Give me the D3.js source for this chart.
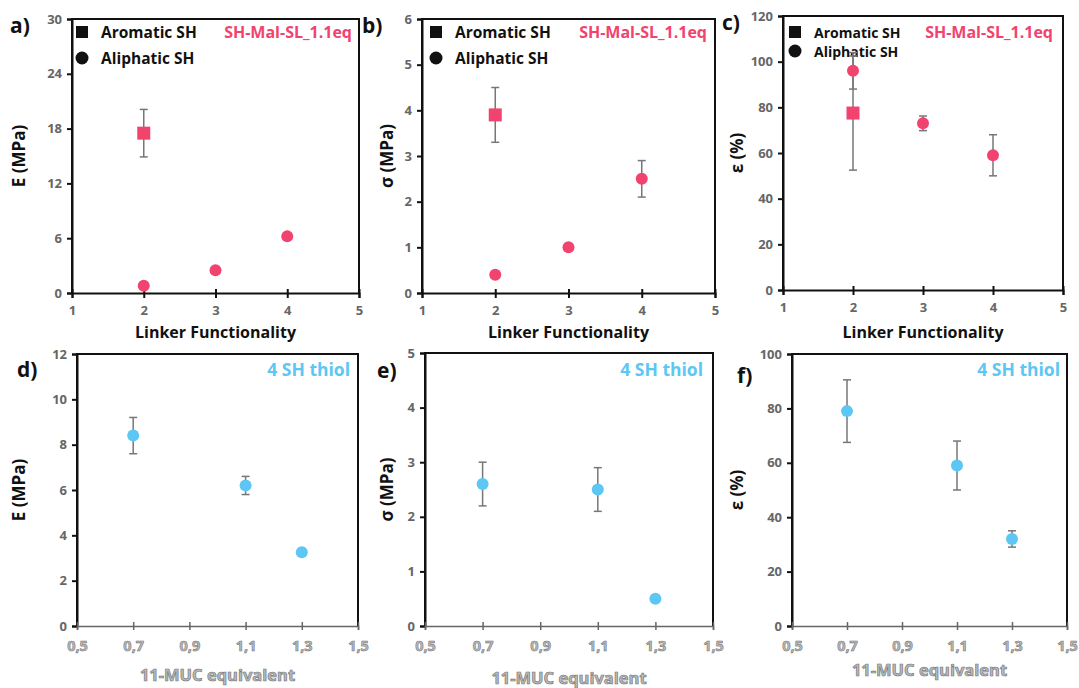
<!DOCTYPE html>
<html><head><meta charset="utf-8">
<script src="https://cdn.jsdelivr.net/npm/d3@7"></script>
<style>
html,body{margin:0;padding:0;background:#fff;}
svg{display:block;font-family:"Open Sans",sans-serif;}
</style></head>
<body><svg id="c" width="1079" height="688"></svg>
<script>
// ---------- DATA ----------
const linkerTicks = [1,2,3,4,5];
const mucTicks = [0.5,0.7,0.9,1.1,1.3,1.5];
const mucTickLabels = ["0,5","0,7","0,9","1,1","1,3","1,5"];

const aromaticX = [2];
const aliphaticX = [2,3,4];
const mucX = [0.7,1.1,1.3];

// a) Young's modulus E (MPa)
const E_aromatic = [17.5], E_aromatic_err = [2.6];
const E_aliphatic = [0.8,2.5,6.2], E_aliphatic_err = [0,0,0];
// b) stress sigma (MPa)
const S_aromatic = [3.9], S_aromatic_err = [0.6];
const S_aliphatic = [0.4,1.0,2.5], S_aliphatic_err = [0,0.05,0.4];
// c) strain epsilon (%)
const e_aromatic = [77.5], e_aromatic_err = [25];
const e_aliphatic = [96,73,59], e_aliphatic_err = [8,3.2,9];
// d-f) 4 SH thiol vs 11-MUC equivalent
const E_muc = [8.4,6.2,3.25], E_muc_err = [0.8,0.4,0.15];
const S_muc = [2.6,2.5,0.5], S_muc_err = [0.4,0.4,0];
const e_muc = [79,59,32], e_muc_err = [11.5,9,3];

const legendLabels = ["Aromatic SH","Aliphatic SH"];
const topTitle = "SH-Mal-SL_1.1eq";
const bottomTitle = "4 SH thiol";

// ---------- STYLE ----------
const PINK = "#f2436f", BLUE = "#5cc6f4", ERR = "#777";
const svg = d3.select("#c");

const panels = [
 {id:"a)", lab:[10,33], box:[72,359,19,293], xd:[1,5], xt:linkerTicks, xl:linkerTicks.map(String), yd:[0,30], yt:d3.range(0,31,6),
  ylab:"E (MPa)", ylx:20, xlab:"Linker Functionality", xly:338, leg:[[82,32],[82,58]], lfs:15.5, title:topTitle, tcol:PINK, tx:352, ty:38,
  series:[{x:aromaticX,y:E_aromatic,err:E_aromatic_err,shape:"square",col:PINK},{x:aliphaticX,y:E_aliphatic,err:E_aliphatic_err,shape:"circle",col:PINK}], top:true},
 {id:"b)", lab:[362,33], box:[422,715,19,293], xd:[1,5], xt:linkerTicks, xl:linkerTicks.map(String), yd:[0,6], yt:d3.range(0,7,1),
  ylab:"σ (MPa)", ylx:388, xlab:"Linker Functionality", xly:338, leg:[[436,32],[436,58]], lfs:15.5, title:topTitle, tcol:PINK, tx:707, ty:38,
  series:[{x:aromaticX,y:S_aromatic,err:S_aromatic_err,shape:"square",col:PINK},{x:aliphaticX,y:S_aliphatic,err:S_aliphatic_err,shape:"circle",col:PINK}], top:true},
 {id:"c)", lab:[722,30], box:[783,1063,16,290], xd:[1,5], xt:linkerTicks, xl:linkerTicks.map(String), yd:[0,120], yt:d3.range(0,121,20),
  ylab:"ε (%)", ylx:738, xlab:"Linker Functionality", xly:338, leg:[[795,32],[795,51]], lfs:14, title:topTitle, tcol:PINK, tx:1053, ty:38,
  series:[{x:aromaticX,y:e_aromatic,err:e_aromatic_err,shape:"square",col:PINK},{x:aliphaticX,y:e_aliphatic,err:e_aliphatic_err,shape:"circle",col:PINK}], top:true},
 {id:"d)", lab:[17,377], box:[77,358,354,626], xd:[0.5,1.5], xt:mucTicks, xl:mucTickLabels, yd:[0,12], yt:d3.range(0,13,2),
  ylab:"E (MPa)", ylx:20, xlab:"11-MUC equivalent", xly:681, title:bottomTitle, tcol:BLUE, tx:350, ty:376,
  series:[{x:mucX,y:E_muc,err:E_muc_err,shape:"circle",col:BLUE}], top:false},
 {id:"e)", lab:[377,378], box:[425,713,353,626], xd:[0.5,1.5], xt:mucTicks, xl:mucTickLabels, yd:[0,5], yt:d3.range(0,6,1),
  ylab:"σ (MPa)", ylx:388, xlab:"11-MUC equivalent", xly:684, title:bottomTitle, tcol:BLUE, tx:703, ty:376,
  series:[{x:mucX,y:S_muc,err:S_muc_err,shape:"circle",col:BLUE}], top:false},
 {id:"f)", lab:[737,383], box:[792,1067,354,626], xd:[0.5,1.5], xt:mucTicks, xl:mucTickLabels, yd:[0,100], yt:d3.range(0,101,20),
  ylab:"ε (%)", ylx:738, xlab:"11-MUC equivalent", xly:676, title:bottomTitle, tcol:BLUE, tx:1060, ty:376,
  series:[{x:mucX,y:e_muc,err:e_muc_err,shape:"circle",col:BLUE}], top:false}
];

panels.forEach(p => {
  const [x0,x1,yT,yB] = p.box;
  const x = d3.scaleLinear().domain(p.xd).range([x0,x1]);
  const y = d3.scaleLinear().domain(p.yd).range([yB,yT]);
  const g = svg.append("g");

  // frame
  g.append("path").attr("d",`M${x0},${yB}V${yT}H${x1}V${yB}`).attr("fill","none").attr("stroke","#111").attr("stroke-width",2);

  // y axis
  const ya = g.append("g").attr("transform",`translate(${x0},0)`)
    .call(d3.axisLeft(y).tickValues(p.yt).tickSize(5).tickPadding(5).tickFormat(d3.format("d")));
  ya.select(".domain").attr("stroke","#111").attr("stroke-width",2);
  ya.selectAll(".tick line").attr("stroke","#111").attr("stroke-width",2);
  ya.selectAll(".tick text").attr("font-size",13).attr("font-weight",700).attr("fill","#666")
    .attr("font-family","'Open Sans',sans-serif");

  // x axis
  const xa = g.append("g").attr("transform",`translate(0,${yB})`)
    .call(d3.axisBottom(x).tickValues(p.xt).tickSize(p.top?5:4).tickPadding(p.top?8:11).tickFormat((d,i)=>p.xl[i]));
  xa.select(".domain").attr("stroke",p.top?"#111":"#666").attr("stroke-width",p.top?2:1.5);
  xa.selectAll(".tick line").attr("stroke",p.top?"#111":"#666").attr("stroke-width",p.top?2:1.5).attr("y1",-4);
  xa.selectAll(".tick text").attr("font-size",p.top?13:14.5).attr("font-weight",700)
    .attr("font-family","'Open Sans',sans-serif")
    .attr("fill",p.top?"#666":"#bbb").attr("stroke",p.top?"none":"#777").attr("stroke-width",0.6);

  // axis titles
  g.append("text").attr("x",(x0+x1)/2).attr("y",p.xly).attr("text-anchor","middle")
    .attr("font-size",p.top?16:16.5).attr("font-weight",700)
    .attr("fill",p.top?"#111":"#bbb").attr("stroke",p.top?"none":"#777").attr("stroke-width",p.top?0:0.7)
    .text(p.xlab);
  g.append("text").attr("transform",`translate(${p.ylx},${(yT+yB)/2}) rotate(-90)`).attr("text-anchor","middle")
    .attr("dominant-baseline","middle").attr("font-size",17).attr("font-weight",700).attr("fill","#111").text(p.ylab);

  // panel label
  g.append("text").attr("x",p.lab[0]).attr("y",p.lab[1]).attr("font-size",21).attr("font-weight",700).attr("fill","#111").text(p.id);

  // title
  g.append("text").attr("x",p.tx).attr("y",p.ty).attr("text-anchor","end").attr("font-size",p.top?16:17.5).attr("font-weight",700)
    .attr("fill",p.tcol).text(p.title);

  // legend
  if (p.leg) {
    p.leg.forEach((pos,i)=>{
      if (i===0) g.append("rect").attr("x",pos[0]-6).attr("y",pos[1]-6).attr("width",12).attr("height",12).attr("fill","#111");
      else g.append("circle").attr("cx",pos[0]).attr("cy",pos[1]).attr("r",6.5).attr("fill","#111");
      g.append("text").attr("x",pos[0]+19).attr("y",pos[1]).attr("dominant-baseline","central")
        .attr("font-size",p.lfs).attr("font-weight",700).attr("fill","#111").text(legendLabels[i]);
    });
  }

  // error bars then markers
  p.series.forEach(s=>{
    s.x.forEach((xv,i)=>{
      const e = s.err[i];
      if (e>0) {
        const cx = x(xv), ya1 = y(s.y[i]+e), yb1 = y(s.y[i]-e);
        g.append("line").attr("x1",cx).attr("x2",cx).attr("y1",ya1).attr("y2",yb1).attr("stroke",ERR).attr("stroke-width",1.5);
        [ya1,yb1].forEach(yy=>g.append("line").attr("x1",cx-4).attr("x2",cx+4).attr("y1",yy).attr("y2",yy).attr("stroke",ERR).attr("stroke-width",1.5));
      }
    });
  });
  p.series.forEach(s=>{
    s.x.forEach((xv,i)=>{
      const cx = x(xv), cy = y(s.y[i]);
      if (s.shape==="square") g.append("rect").attr("x",cx-6.5).attr("y",cy-6.5).attr("width",13).attr("height",13).attr("fill",s.col);
      else g.append("circle").attr("cx",cx).attr("cy",cy).attr("r",6).attr("fill",s.col);
    });
  });
});
</script>
</body></html>
